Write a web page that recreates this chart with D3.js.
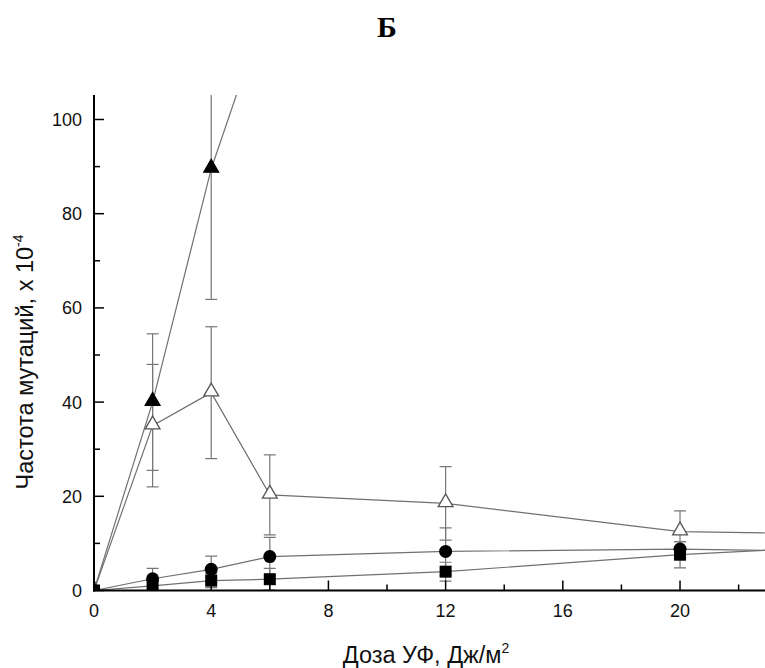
<!DOCTYPE html>
<html>
<head>
<meta charset="utf-8">
<script src="https://cdn.jsdelivr.net/npm/d3@7"></script>
<style>
  body { margin: 0; background: #fff; }
  svg { font-family: "Liberation Sans", Arial, sans-serif; }
</style>
</head>
<body>
<svg id="chart" width="765" height="668"></svg>
<script>
// doses (x) for each series
let doses = [0, 2, 4, 6, 12, 20, 24]
// filled triangles
let triFilled = [0, 40, 89.5, 126]
let triFilledErr = [0, 14.5, 27.7, 0]
// open triangles
let triOpen = [0, 35, 42, 20.3, 18.5, 12.5, 12.1]
let triOpenErr = [0, 13, 14, 8.5, 7.8, 4.4, 0]
// circles
let circles = [0, 2.5, 4.5, 7.2, 8.3, 8.8, 8.4]
let circlesErr = [0, 2.2, 2.8, 4.1, 5, 1.5, 0]
// squares
let squares = [0, 1, 2.1, 2.4, 4, 7.6, 8.9]
let squaresErr = [0, 1.2, 1.5, 2.3, 2, 2.8, 0]

let xTicks = [0, 4, 8, 12, 16, 20]
let xMinor = [2, 6, 10, 14, 18, 22]
let yTicks = [0, 20, 40, 60, 80, 100]
let yMinor = [10, 30, 50, 70, 90]

let svg = d3.select("#chart")
let mLeft = 94, mRight = 765, mTop = 95, mBottom = 590.5

let xScale = d3.scaleLinear().domain([0, 22.9]).range([mLeft, mRight])
let yScale = d3.scaleLinear().domain([0, 105.2]).range([mBottom, mTop])

function toPoints(vals, errs) {
    return vals.map(function (v, i) { return {x: doses[i], y: v, e: errs[i]} })
}

let series = [
    {pts: toPoints(triFilled, triFilledErr), shape: "tri", fill: "#000"},
    {pts: toPoints(triOpen, triOpenErr), shape: "tri", fill: "#fff"},
    {pts: toPoints(circles, circlesErr), shape: "circle", fill: "#000"},
    {pts: toPoints(squares, squaresErr), shape: "square", fill: "#000"}
]

svg.append("defs").append("clipPath").attr("id", "plotclip")
    .append("rect").attr("x", mLeft).attr("y", mTop)
    .attr("width", mRight - mLeft).attr("height", mBottom - mTop)

let plot = svg.append("g").attr("clip-path", "url(#plotclip)")

// error bars
series.forEach(function (s) {
    let eb = plot.append("g").selectAll(".eb").data(s.pts.filter(function (d) { return d.e > 0 }))
        .enter().append("g").attr("class", "eb")
    eb.append("line")
        .attr("x1", function (d) { return xScale(d.x) }).attr("x2", function (d) { return xScale(d.x) })
        .attr("y1", function (d) { return yScale(d.y - d.e) }).attr("y2", function (d) { return yScale(d.y + d.e) })
        .attr("stroke", "#777").attr("stroke-width", 1.2)
    ;[-1, 1].forEach(function (sgn) {
        eb.append("line")
            .attr("x1", function (d) { return xScale(d.x) - 6 }).attr("x2", function (d) { return xScale(d.x) + 6 })
            .attr("y1", function (d) { return yScale(d.y + sgn * d.e) }).attr("y2", function (d) { return yScale(d.y + sgn * d.e) })
            .attr("stroke", "#777").attr("stroke-width", 1.2)
    })
})

// lines
let line = d3.line().x(function (d) { return xScale(d.x) }).y(function (d) { return yScale(d.y) })
series.forEach(function (s) {
    plot.append("path").datum(s.pts)
        .attr("d", line).attr("fill", "none")
        .attr("stroke", "#707070").attr("stroke-width", 1.2)
})

// markers
let triSym = d3.symbol().type(d3.symbolTriangle).size(95)
series.forEach(function (s) {
    let m = plot.append("g").selectAll(".m").data(s.pts).enter().append("g")
        .attr("transform", function (d) { return `translate(${xScale(d.x)},${yScale(d.y)})` })
    if (s.shape === "tri") {
        m.append("path").attr("d", triSym).attr("transform", "translate(0,-1)")
            .attr("fill", s.fill).attr("stroke", s.fill === "#fff" ? "#555" : "#000").attr("stroke-width", 1.3)
    } else if (s.shape === "circle") {
        m.append("circle").attr("r", 6.5).attr("fill", s.fill)
    } else {
        m.append("rect").attr("x", -6).attr("y", -6).attr("width", 12).attr("height", 12).attr("fill", s.fill)
    }
})

// axes with inward ticks
let xAxis = svg.append("g").attr("transform", `translate(0,${mBottom})`)
xAxis.append("line").attr("x1", mLeft - 1).attr("x2", mRight).attr("stroke", "#000").attr("stroke-width", 2)
xAxis.selectAll(".xt").data(xTicks).enter().append("line")
    .attr("x1", function (d) { return xScale(d) }).attr("x2", function (d) { return xScale(d) })
    .attr("y1", 0).attr("y2", -10).attr("stroke", "#000").attr("stroke-width", 1.5)
xAxis.selectAll(".xm").data(xMinor).enter().append("line")
    .attr("x1", function (d) { return xScale(d) }).attr("x2", function (d) { return xScale(d) })
    .attr("y1", 0).attr("y2", -6).attr("stroke", "#000").attr("stroke-width", 1.5)
xAxis.selectAll(".xl").data(xTicks).enter().append("text")
    .attr("x", function (d) { return xScale(d) }).attr("y", 26.5)
    .attr("text-anchor", "middle").attr("font-size", 18).attr("fill", "#111")
    .text(function (d) { return d })

let yAxis = svg.append("g").attr("transform", `translate(${mLeft},0)`)
yAxis.append("line").attr("y1", mTop).attr("y2", mBottom + 1).attr("stroke", "#000").attr("stroke-width", 2)
yAxis.selectAll(".yt").data(yTicks).enter().append("line")
    .attr("y1", function (d) { return yScale(d) }).attr("y2", function (d) { return yScale(d) })
    .attr("x1", 0).attr("x2", 10).attr("stroke", "#000").attr("stroke-width", 1.5)
yAxis.selectAll(".ym").data(yMinor).enter().append("line")
    .attr("y1", function (d) { return yScale(d) }).attr("y2", function (d) { return yScale(d) })
    .attr("x1", 0).attr("x2", 6).attr("stroke", "#000").attr("stroke-width", 1.5)
yAxis.selectAll(".yl").data(yTicks).enter().append("text")
    .attr("x", -12).attr("y", function (d) { return yScale(d) + 6.5 })
    .attr("text-anchor", "end").attr("font-size", 18).attr("fill", "#111")
    .text(function (d) { return d })

// axis titles
let xt = svg.append("text").attr("x", 426).attr("y", 663)
    .attr("text-anchor", "middle").attr("font-size", 23.5).attr("fill", "#111")
xt.append("tspan").text("Доза УФ, Дж/м")
xt.append("tspan").attr("font-size", 14).attr("dy", -10).text("2")

let yt = svg.append("text")
    .attr("transform", "translate(33,362) rotate(-90)")
    .attr("text-anchor", "middle").attr("font-size", 23.5).attr("fill", "#111")
yt.append("tspan").text("Частота мутаций, х 10")
yt.append("tspan").attr("font-size", 14).attr("dy", -10).text("-4")

// panel title
svg.append("text").attr("x", 387).attr("y", 37)
    .attr("text-anchor", "middle").attr("font-family", "Liberation Serif, serif")
    .attr("font-weight", "bold").attr("font-size", 30).text("Б")
</script>
</body>
</html>
